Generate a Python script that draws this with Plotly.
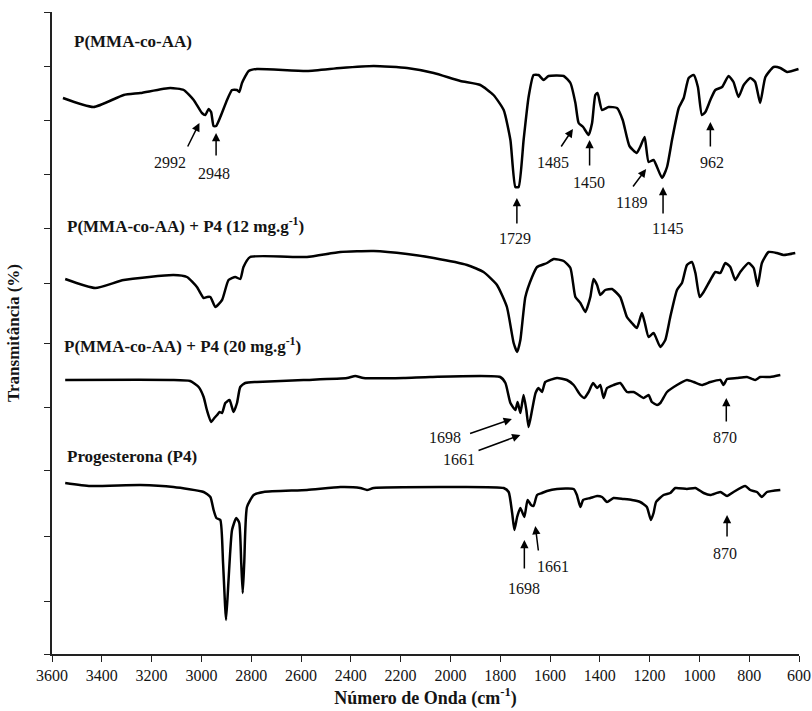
import plotly.graph_objects as go

# ---- data (wavenumber cm-1, transmittance in offset units) ----
wn_mma = [3556, 3433, 3312, 3245, 3125, 3071, 3031, 2998, 2984, 2971, 2961, 2951, 2941, 2924, 2897, 2877, 2857, 2848, 2837, 2810, 2777, 2576, 2442, 2308, 2174, 2067, 1960, 1880, 1827, 1786, 1759, 1739, 1726, 1706, 1686, 1666, 1646, 1626, 1606, 1545, 1518, 1498, 1485, 1467, 1445, 1431, 1418, 1409, 1391, 1365, 1331, 1308, 1281, 1252, 1238, 1220, 1204, 1184, 1150, 1130, 1110, 1083, 1063, 1043, 1023, 1006, 990, 976, 956, 936, 909, 883, 863, 843, 822, 796, 776, 756, 735, 702, 675, 648, 602]
t_mma = [556, 547, 559, 561, 566, 564, 554, 541, 539, 545, 542, 528, 528, 537, 554, 564, 564, 562, 571, 583, 585, 583, 586, 588, 586, 581, 573, 569, 559, 544, 514, 467, 467, 514, 557, 579, 579, 574, 578, 578, 571, 551, 531, 527, 519, 531, 559, 561, 544, 547, 546, 534, 508, 501, 507, 517, 492, 494, 476, 487, 514, 546, 556, 576, 579, 567, 539, 542, 554, 564, 567, 578, 572, 557, 569, 576, 572, 551, 577, 587, 586, 582, 585]

wn_p12 = [3547, 3426, 3312, 3112, 3058, 3018, 2991, 2977, 2964, 2944, 2917, 2891, 2864, 2844, 2831, 2804, 2576, 2442, 2308, 2174, 2067, 1933, 1867, 1813, 1773, 1746, 1732, 1719, 1699, 1672, 1652, 1612, 1585, 1545, 1518, 1498, 1478, 1458, 1438, 1425, 1411, 1398, 1378, 1351, 1318, 1291, 1271, 1251, 1231, 1220, 1204, 1184, 1157, 1137, 1117, 1090, 1070, 1050, 1030, 1016, 999, 983, 956, 936, 916, 896, 876, 856, 836, 802, 782, 766, 749, 722, 689, 662, 615]
t_p12 = [375, 366, 374, 379, 377, 367, 356, 357, 357, 347, 354, 374, 377, 375, 387, 397, 397, 402, 403, 400, 396, 389, 382, 369, 347, 311, 302, 314, 357, 377, 387, 391, 395, 393, 386, 357, 351, 342, 357, 375, 369, 359, 364, 365, 357, 337, 331, 326, 341, 332, 317, 321, 307, 314, 337, 364, 371, 389, 392, 381, 357, 362, 374, 382, 381, 391, 387, 374, 382, 391, 386, 368, 391, 402, 401, 399, 401]

wn_p20 = [3547, 3124, 3045, 3011, 2991, 2978, 2961, 2948, 2937, 2927, 2917, 2904, 2887, 2871, 2857, 2844, 2824, 2777, 2590, 2415, 2382, 2349, 2188, 2081, 1800, 1779, 1759, 1739, 1730, 1719, 1706, 1695, 1686, 1672, 1658, 1646, 1632, 1619, 1572, 1532, 1505, 1478, 1462, 1445, 1427, 1411, 1398, 1385, 1371, 1345, 1318, 1291, 1264, 1244, 1224, 1204, 1191, 1170, 1157, 1130, 1090, 1050, 1023, 990, 956, 916, 903, 889, 849, 809, 776, 756, 716, 675]
t_p20 = [274, 274, 273, 267, 257, 244, 232, 236, 239, 242, 241, 251, 254, 242, 251, 267, 271, 272, 274, 276, 278, 276, 276, 277, 277, 271, 251, 244, 252, 241, 259, 244, 227, 244, 261, 266, 262, 272, 276, 274, 269, 259, 256, 262, 271, 266, 269, 256, 266, 269, 271, 262, 262, 259, 256, 259, 252, 249, 251, 262, 269, 274, 272, 269, 272, 274, 269, 275, 276, 277, 274, 277, 277, 279]

wn_p4 = [3547, 3446, 3245, 3112, 2991, 2964, 2951, 2940, 2924, 2913, 2901, 2891, 2877, 2860, 2848, 2840, 2834, 2828, 2817, 2790, 2750, 2576, 2442, 2362, 2335, 2308, 2041, 1786, 1766, 1752, 1743, 1732, 1719, 1703, 1690, 1676, 1666, 1652, 1632, 1612, 1572, 1505, 1492, 1478, 1467, 1438, 1411, 1391, 1371, 1345, 1305, 1271, 1238, 1211, 1195, 1184, 1174, 1144, 1117, 1097, 1050, 1016, 983, 956, 916, 889, 863, 816, 796, 769, 749, 729, 675]
t_p4 = [171, 168, 169, 167, 162, 157, 144, 136, 134, 91, 34, 74, 124, 136, 131, 91, 61, 91, 147, 159, 162, 164, 167, 166, 164, 166, 167, 166, 162, 141, 124, 137, 146, 137, 154, 149, 148, 159, 161, 163, 165, 165, 159, 147, 154, 156, 158, 157, 152, 156, 155, 154, 152, 147, 134, 141, 152, 159, 161, 166, 165, 166, 161, 159, 162, 158, 162, 168, 164, 162, 157, 162, 164]

series_names = ["P(MMA-co-AA)", "P(MMA-co-AA) + P4 (12 mg.g<sup>-1</sup>)",
                "P(MMA-co-AA) + P4 (20 mg.g<sup>-1</sup>)", "Progesterona (P4)"]
name_pos = [(3519, 613), (3547, 429), (3559, 309), (3547, 198)]

x_ticks = list(range(3600, 599, -200))
y_ticks = [0, 53, 118, 184, 247, 311, 371, 426, 480, 534, 588, 642]

# peak labels: (text, text_x, text_y, tail_x, tail_y, head_x, head_y)
peaks = [
    ("2992", 3125, 492, 3058, 506, 3008, 531),
    ("2948", 2948, 481, 2941, 497, 2941, 521),
    ("1729", 1740, 416, 1733, 429, 1733, 456),
    ("1485", 1586, 492, 1559, 506, 1508, 525),
    ("1450", 1445, 472, 1441, 487, 1441, 514),
    ("1189", 1271, 452, 1271, 466, 1214, 485),
    ("1145", 1130, 426, 1146, 439, 1146, 467),
    ("962", 949, 492, 956, 506, 956, 532),
    ("1698", 2021, 217, 1927, 220, 1753, 235),
    ("1661", 1967, 195, 1893, 203, 1719, 219),
    ("870", 896, 217, 892, 231, 892, 256),
    ("1698", 1706, 66, 1703, 84, 1703, 114),
    ("1661", 1586, 88, 1646, 102, 1659, 128),
    ("870", 896, 101, 889, 116, 889, 139),
]

FONT = "Liberation Serif, Times New Roman, serif"
TXT = "#141414"

fig = go.Figure()
for wn, t, nm in [(wn_mma, t_mma, series_names[0]), (wn_p12, t_p12, series_names[1]),
                  (wn_p20, t_p20, series_names[2]), (wn_p4, t_p4, series_names[3])]:
    fig.add_trace(go.Scatter(x=wn, y=t, mode="lines", name=nm,
                             line=dict(color="black", width=2.5, shape="spline", smoothing=0.5),
                             hoverinfo="skip"))

annotations = []
for nm, (px, py) in zip(series_names, name_pos):
    annotations.append(dict(x=px, y=py, xref="x", yref="y", text="<b>" + nm + "</b>",
                            showarrow=False, xanchor="left", yanchor="middle",
                            font=dict(family=FONT, size=17, color=TXT)))
for txt, tx, ty, ax, ay, hx, hy in peaks:
    annotations.append(dict(x=hx, y=hy, ax=ax, ay=ay, xref="x", yref="y", axref="x", ayref="y",
                            text="", showarrow=True, arrowhead=2, arrowsize=1.1, arrowwidth=1.5,
                            arrowcolor="black", standoff=0, startstandoff=0))
    annotations.append(dict(x=tx, y=ty, xref="x", yref="y", text=txt, showarrow=False,
                            xanchor="center", yanchor="middle",
                            font=dict(family=FONT, size=16, color=TXT)))

fig.update_layout(
    width=812, height=711,
    margin=dict(l=52, r=13, t=12, b=57),
    paper_bgcolor="white", plot_bgcolor="white",
    showlegend=False,
    annotations=annotations,
    font=dict(family=FONT, size=16, color=TXT),
)
fig.update_xaxes(range=[3600, 600], tickvals=x_ticks, ticktext=[str(v) for v in x_ticks],
                 automargin=False,
                 showgrid=False, zeroline=False, showline=True, linecolor="#222", linewidth=1.5,
                 ticks="outside", ticklen=6, tickcolor="#222", tickwidth=1.2,
                 ticklabelstandoff=0,
                 tickfont=dict(family=FONT, size=16, color=TXT),
                 title=dict(text="<b>Número de Onda (cm<sup>-1</sup>)</b>", standoff=8,
                            font=dict(family=FONT, size=18, color=TXT)))
fig.update_yaxes(range=[0, 642], tickvals=y_ticks, showticklabels=False,
                 automargin=False,
                 showgrid=False, zeroline=False, showline=True, linecolor="#222", linewidth=1.5,
                 ticks="outside", ticklen=6, tickcolor="#222", tickwidth=1.2,
                 title=dict(text="<b>Transmitância (%)</b>", standoff=20,
                            font=dict(family=FONT, size=17, color=TXT)))

fig.write_html("out.html")
